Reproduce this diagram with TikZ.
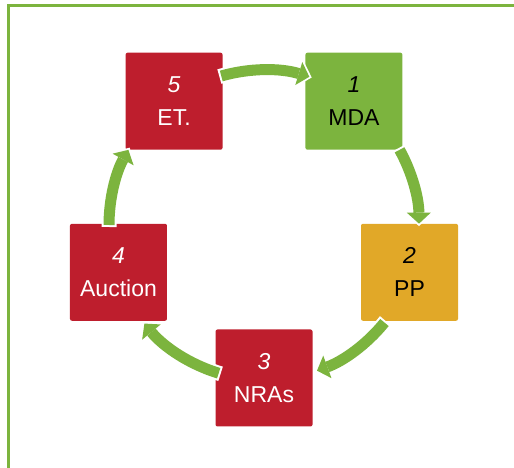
\documentclass[tikz,border=0pt]{standalone}
\usepackage{fontspec}
\setmainfont{Liberation Sans}
\usetikzlibrary{arrows.meta}
\definecolor{cycred}{RGB}{190,30,45}
\definecolor{cycgreen}{RGB}{124,180,62}
\definecolor{cycgold}{RGB}{225,168,40}
\tikzset{
  stage/.style={rounded corners=2pt, minimum width=97pt, minimum height=97pt,
    inner sep=0pt, align=center, font=\fontsize{23}{33}\selectfont},
  cyc/.style={draw=cycgreen, line width=11pt,
    -{Triangle[width=24pt,length=11pt,line width=0pt]},
    preaction={draw=white, line width=15pt,
      -{Triangle[width=30pt,length=14pt,line width=0pt]},
      shorten >=-2.5pt, shorten <=-2pt}}
}
\begin{document}
\begin{tikzpicture}[x=1pt,y=1pt]
\useasboundingbox (0,0) rectangle (514,468);
\coordinate (hub) at (264,243);
\draw[cycgreen, line width=3.6pt] (8.3,-5) |- (520,462.4);
% the five stages
\node[stage, fill=cycgreen] (mda) at ([shift={(54:153)}]hub) {\textit{1}\\MDA};
\node[stage, fill=cycgold] (pp) at ([shift={(-18:153)}]hub) {\textit{2}\\PP};
\node[stage, fill=cycred, text=white] (nras) at ([shift={(-90:153)}]hub) {\textit{3}\\NRAs};
\node[stage, fill=cycred, text=white] (auct) at ([shift={(198:153)}]hub) {\textit{4}\\Auction};
\node[stage, fill=cycred, text=white] (et) at ([shift={(126:153)}]hub) {\textit{5}\\ET.};
% arrows round the cycle
\foreach \from/\to in {106/73, 29/0.5, -39/-70, -107/-140.5, 180/151}
  \draw[cyc] ([shift={(\from:155)}]hub) arc[start angle=\from, end angle=\to, radius=155];
\end{tikzpicture}
\end{document}
